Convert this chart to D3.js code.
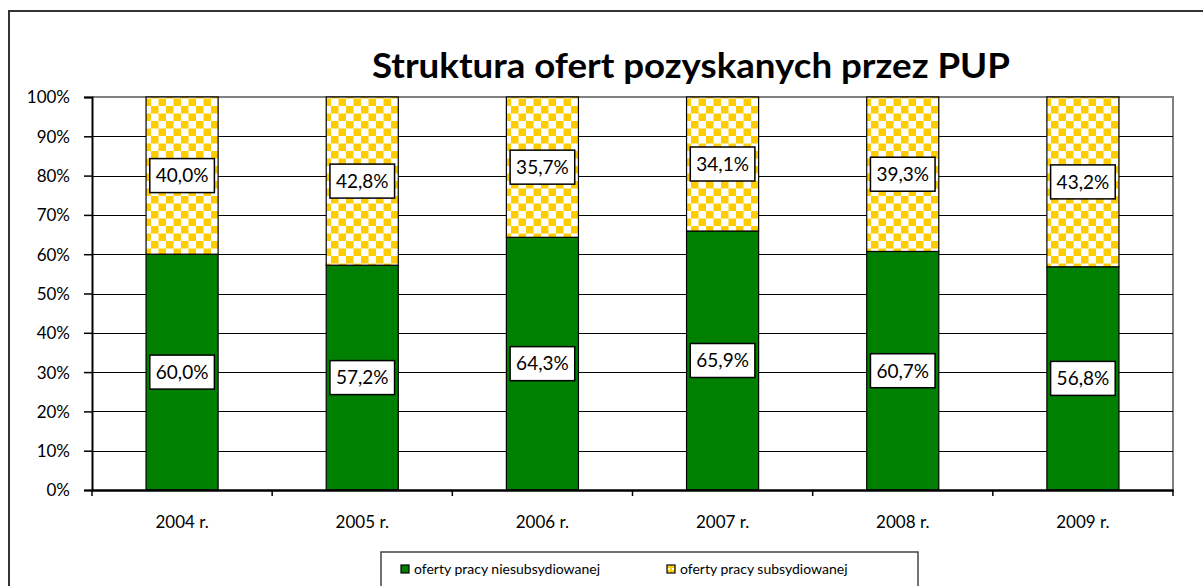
<!DOCTYPE html>
<html>
<head>
<meta charset="utf-8">
<script src="https://cdn.jsdelivr.net/npm/d3@7"></script>
<style>
	body { margin: 0; background: #fff; }
	text { font-family: Lato, "Open Sans", sans-serif; fill: #000; }
</style>
</head>
<body>
<svg id="chart"></svg>
<script>
const years = ['2004 r.', '2005 r.', '2006 r.', '2007 r.', '2008 r.', '2009 r.'];
const niesubsydiowane = [60.0, 57.2, 64.3, 65.9, 60.7, 56.8];
const subsydiowane = [40.0, 42.8, 35.7, 34.1, 39.3, 43.2];
const yTicks = [0, 10, 20, 30, 40, 50, 60, 70, 80, 90, 100];
const seriesNames = ['oferty pracy niesubsydiowanej', 'oferty pracy subsydiowanej'];

const width = 1203, height = 586;
const plotLeft = 92, plotRight = 1173, plotTop = 97, plotBottom = 490;

const svg = d3.select('#chart')
	.attr('width', width)
	.attr('height', height);

// checker pattern for the second series
const cell = 7.5;
const defs = svg.append('defs');
const pat = defs.append('pattern')
	.attr('id', 'checker')
	.attr('patternUnits', 'userSpaceOnUse')
	.attr('width', cell * 2)
	.attr('height', cell * 2)
	.attr('x', 1)
	.attr('y', 1);
pat.append('rect').attr('width', cell * 2).attr('height', cell * 2).attr('fill', '#fff');
pat.append('rect').attr('width', cell).attr('height', cell).attr('fill', '#ffcc00');
pat.append('rect').attr('x', cell).attr('y', cell).attr('width', cell).attr('height', cell).attr('fill', '#ffcc00');

const patSmall = defs.append('pattern')
	.attr('id', 'checkerSmall')
	.attr('patternUnits', 'userSpaceOnUse')
	.attr('width', 4)
	.attr('height', 4);
patSmall.append('rect').attr('width', 4).attr('height', 4).attr('fill', '#ffcc00');
patSmall.append('rect').attr('width', 2).attr('height', 2).attr('fill', '#fff');

// outer chart border (cropped on right/bottom)
svg.append('rect')
	.attr('x', 9).attr('y', 11)
	.attr('width', 1300).attr('height', 700)
	.attr('fill', 'none')
	.attr('stroke', '#333')
	.attr('stroke-width', 2);

svg.append('text')
	.attr('x', 691)
	.attr('y', 78)
	.attr('text-anchor', 'middle')
	.style('font-size', '35px')
	.style('font-weight', 'bold')
	.attr('textLength', 638)
	.attr('lengthAdjust', 'spacingAndGlyphs')
	.text('Struktura ofert pozyskanych przez PUP');

const xScale = d3.scaleBand()
	.domain(years)
	.range([plotLeft, plotRight])
	.paddingInner(0.6)
	.paddingOuter(0.3);

const xOuter = d3.scaleBand()
	.domain(years)
	.range([plotLeft, plotRight]);

const yScale = d3.scaleLinear()
	.domain([0, 100])
	.range([plotBottom, plotTop]);

// plot area frame
svg.append('path')
	.attr('d', `M${plotLeft},${plotTop}H${plotRight}V${plotBottom}`)
	.attr('fill', 'none')
	.attr('stroke', '#808080')
	.attr('stroke-width', 2);

// gridlines
svg.append('g')
	.selectAll('line')
	.data(yTicks.filter(d => d > 0 && d < 100))
	.enter()
	.append('line')
	.attr('x1', plotLeft)
	.attr('x2', plotRight)
	.attr('y1', d => Math.round(yScale(d)) + 0.5)
	.attr('y2', d => Math.round(yScale(d)) + 0.5)
	.attr('stroke', '#000')
	.attr('stroke-width', 1.2);

// bars
const bars = svg.append('g');
years.forEach((yr, i) => {
	const x = xScale(yr), w = xScale.bandwidth();
	const a = niesubsydiowane[i], b = subsydiowane[i];
	bars.append('rect')
		.attr('x', x).attr('width', w)
		.attr('y', yScale(a)).attr('height', yScale(0) - yScale(a))
		.attr('fill', '#008000')
		.attr('stroke', '#000')
		.attr('stroke-width', 1.2);
	bars.append('rect')
		.attr('x', x).attr('width', w)
		.attr('y', yScale(a + b)).attr('height', yScale(a) - yScale(a + b))
		.attr('fill', 'url(#checker)')
		.attr('stroke', '#000')
		.attr('stroke-width', 1.2);
});

// axes
const yAxis = svg.append('g')
	.attr('transform', `translate(${plotLeft},0)`)
	.call(d3.axisLeft(yScale).tickValues(yTicks).tickSize(8).tickFormat(d => d + '%'));
yAxis.select('.domain').attr('stroke', '#000').attr('stroke-width', 2);
yAxis.selectAll('.tick line').attr('stroke', '#000').attr('stroke-width', 1.5);
yAxis.selectAll('.tick text')
	.attr('x', -22)
	.attr('dy', '0.35em')
	.style('font-size', '17px')
	.style('font-family', 'Lato, sans-serif');

const xAxis = svg.append('g')
	.attr('transform', `translate(0,${plotBottom})`)
	.call(d3.axisBottom(xScale).tickSize(0).tickFormat(d => d));
xAxis.select('.domain').attr('stroke', '#000').attr('stroke-width', 2.5);
xAxis.selectAll('.tick text')
	.attr('y', 38)
	.attr('dy', 0)
	.style('font-size', '17px')
	.style('font-family', 'Lato, sans-serif');

// category boundary ticks
svg.append('g')
	.selectAll('line')
	.data(years.concat(['end']))
	.enter()
	.append('line')
	.attr('x1', (d, i) => plotLeft + i * xOuter.step())
	.attr('x2', (d, i) => plotLeft + i * xOuter.step())
	.attr('y1', plotBottom)
	.attr('y2', plotBottom + 6)
	.attr('stroke', '#000')
	.attr('stroke-width', 1.5);

// data labels
const fmt = v => v.toFixed(1).replace('.', ',') + '%';
const labels = svg.append('g');
const addLabel = (cx, cy, v) => {
	const g = labels.append('g').attr('transform', `translate(${cx},${cy})`);
	const r = g.append('rect');
	const t = g.append('text')
		.attr('text-anchor', 'middle')
		.attr('dy', '0.36em')
		.style('font-size', '19px')
		.text(fmt(v));
	const bw = t.node().getComputedTextLength() + 12;
	r.attr('x', -bw / 2).attr('y', -17)
		.attr('width', bw).attr('height', 34)
		.attr('fill', '#fff')
		.attr('stroke', '#000')
		.attr('stroke-width', 1.5);
};
years.forEach((yr, i) => {
	const cx = xScale(yr) + xScale.bandwidth() / 2;
	const a = niesubsydiowane[i], b = subsydiowane[i];
	addLabel(cx, yScale(a / 2), a);
	addLabel(cx, yScale(a + b / 2), b);
});

// legend
const legend = svg.append('g');
legend.append('rect')
	.attr('x', 381).attr('y', 552)
	.attr('width', 537).attr('height', 60)
	.attr('fill', '#fff')
	.attr('stroke', '#444')
	.attr('stroke-width', 1.5);
const legendX = [401, 667];
const legendFill = ['#008000', 'url(#checkerSmall)'];
seriesNames.forEach((name, i) => {
	legend.append('rect')
		.attr('x', legendX[i]).attr('y', 565)
		.attr('width', 8).attr('height', 8)
		.attr('fill', legendFill[i])
		.attr('stroke', '#000')
		.attr('stroke-width', 1.2);
	legend.append('text')
		.attr('x', legendX[i] + 13)
		.attr('y', 574)
		.style('font-size', '14px')
		.text(name);
});
</script>
</body>
</html>
